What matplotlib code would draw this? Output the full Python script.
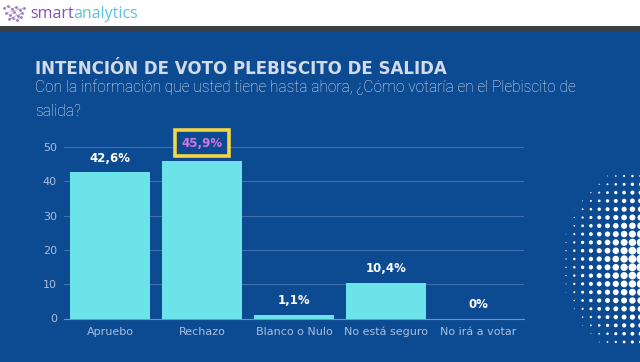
"""
Intención de voto Plebiscito de Salida - bar chart recreation
"""

import numpy as np
import matplotlib.pyplot as plt
from matplotlib.patches import Rectangle

# -----------------------------
# Data
# -----------------------------
categories = ["Apruebo", "Rechazo", "Blanco o Nulo", "No está seguro", "No irá a votar"]
values = [42.6, 45.9, 1.1, 10.4, 0.0]
value_labels = ["42,6%", "45,9%", "1,1%", "10,4%", "0%"]
y_ticks = [0, 10, 20, 30, 40, 50]
highlight_idx = 1

title = "INTENCIÓN DE VOTO PLEBISCITO DE SALIDA"
subtitle = ("Con la información que usted tiene hasta ahora, ¿Cómo votaría en el Plebiscito de\n"
            "salida?")

# colours
BG = "#0c4a92"
BAR = "#6be3e8"
GRID = "#3f6fae"
TICK = "#a9bfdf"
YELLOW = "#f6d543"
PINK = "#d774e3"


def main():
    fig = plt.figure(figsize=(6.4, 3.62), dpi=100)
    fig.patch.set_facecolor(BG)

    # header band (white) + dark separator line
    fig.add_artist(Rectangle((0, 1 - 26 / 362), 1, 26 / 362, transform=fig.transFigure,
                             facecolor="white", edgecolor="none", zorder=0))
    fig.add_artist(Rectangle((0, 1 - 31 / 362), 1, 5 / 362, transform=fig.transFigure,
                             facecolor="#3b3e44", edgecolor="none", zorder=0))
    t1 = fig.text(30 / 640, 1 - 14 / 362, "smart", color="#8b4fb3", fontsize=11.5,
                  family="Open Sans", va="center", ha="left")
    fig.canvas.draw()
    bb = t1.get_window_extent()
    fig.text(bb.x1 / 640, 1 - 14 / 362, "analytics", color="#58c6dc", fontsize=11.5,
             family="Open Sans", va="center", ha="left")
    # small logo blob
    logo_x = [4, 8, 12, 16, 20, 24, 6, 10, 14, 18, 22, 9, 13, 17, 21]
    logo_y = [8, 6, 9, 7, 10, 8, 13, 15, 12, 16, 13, 19, 18, 20, 17]
    fig.add_artist(plt.Line2D(np.array(logo_x) / 640, 1 - np.array(logo_y) / 362,
                              transform=fig.transFigure, color="#c9b3e0", lw=0.6,
                              marker="o", ms=2, mfc="#9a7cc8", mec="none"))

    # titles
    fig.text(35 / 640, 1 - 69 / 362, title, color="#d3dbe8", fontsize=12,
             fontweight="bold", family="DejaVu Sans", va="center", ha="left")
    fig.text(35 / 640, 1 - 99 / 362, subtitle, color="#e6edf7", fontsize=11.2,
             family="Roboto", fontweight="light", va="center", ha="left",
             linespacing=1.75)

    # chart axes
    ax = fig.add_axes([64 / 640, 43.5 / 362, 460 / 640, 171.5 / 362])
    ax.set_facecolor(BG)
    x = np.arange(len(categories))
    ax.bar(x, values, width=0.86, color=BAR, zorder=3)

    ax.set_xlim(-0.5, len(categories) - 0.5)
    ax.set_ylim(0, 50)
    ax.set_yticks(y_ticks)
    ax.set_xticks(x)
    ax.set_xticklabels(categories)
    ax.grid(axis="y", color=GRID, lw=0.8, zorder=0)
    for side in ["top", "right", "left"]:
        ax.spines[side].set_visible(False)
    ax.spines["bottom"].set_color("#6f93c4")
    ax.tick_params(axis="both", length=0, colors=TICK, labelsize=8)
    ax.tick_params(axis="x", pad=6)
    ax.tick_params(axis="y", pad=5)

    for i, (v, lab) in enumerate(zip(values, value_labels)):
        if i == highlight_idx:
            ax.annotate(lab, (i, v), xytext=(0, 13), textcoords="offset points",
                        ha="center", va="center", color=PINK, fontsize=8.5,
                        fontweight="bold", annotation_clip=False,
                        bbox=dict(boxstyle="square,pad=0.55", fc=BG, ec=YELLOW, lw=2.6))
        else:
            ax.annotate(lab, (i, v), xytext=(0, 10), textcoords="offset points",
                        ha="center", va="center", color="white", fontsize=8.5,
                        fontweight="bold", annotation_clip=False)

    # halftone decoration on the right
    dax = fig.add_axes([0, 0, 1, 1], zorder=-1)
    dax.set_xlim(0, 640)
    dax.set_ylim(362, 0)
    dax.axis("off")
    gx, gy = np.meshgrid(np.arange(566, 645, 8.3), np.arange(176, 350, 8.3))
    dist = np.hypot(gx - 655, (gy - 262) / 1.1)
    sizes = np.clip((95 - dist) / 95, 0, None) ** 1.4 * 48
    dax.scatter(gx.ravel(), gy.ravel(), s=sizes.ravel(), color="white", lw=0)

    fig.savefig("out.png", dpi=100, facecolor=BG)


if __name__ == "__main__":
    main()
